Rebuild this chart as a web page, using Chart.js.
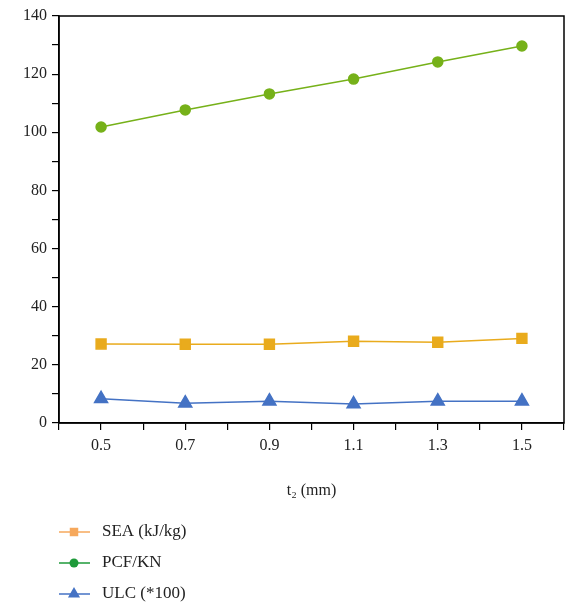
<!DOCTYPE html>
<html>
<head>
<meta charset="utf-8">
<script src="https://cdn.jsdelivr.net/npm/chart.js@4"></script>
<style>
  html, body { margin: 0; padding: 0; background: #fff; }
  #wrap { width: 567px; height: 603px; }
</style>
</head>
<body>
<div id="wrap"><canvas id="myChart" width="567" height="603"></canvas></div>
<script>
'use strict';

let thickness = [0.5, 0.7, 0.9, 1.1, 1.3, 1.5];
let seaValues = [27.2, 27.1, 27.1, 28.1, 27.8, 29.1];
let pcfValues = [101.8, 107.7, 113.2, 118.3, 124.2, 129.7];
let ulcValues = [8.3, 6.8, 7.5, 6.5, 7.5, 7.5];
let seriesNames = ['SEA (kJ/kg)', 'PCF/KN', 'ULC (*100)'];
let xTitle = 't\u2082 (mm)';

let fontFamily = '"Liberation Serif", "Times New Roman", serif';

function toPoints(values) {
    let pts = [];
    for (let i = 0; i < thickness.length; i++) {
        pts.push({ x: thickness[i], y: values[i] });
    }
    return pts;
}

// frame around the plot + legend drawn underneath
let extras = {
    id: 'extras',
    afterDraw(chart) {
        let ctx = chart.ctx;
        let a = chart.chartArea;
        ctx.save();
        ctx.strokeStyle = '#000';
        ctx.lineWidth = 1.5;
        ctx.strokeRect(a.left, a.top, a.right - a.left, a.bottom - a.top);

        let rows = [532, 563, 594];
        chart.data.datasets.forEach(function (ds, i) {
            let y = rows[i];
            ctx.strokeStyle = ds.legendColor;
            ctx.lineWidth = 1.5;
            ctx.beginPath();
            ctx.moveTo(59, y);
            ctx.lineTo(90, y);
            ctx.stroke();
            ctx.fillStyle = ds.legendColor;
            Chart.helpers.drawPoint(ctx, {
                pointStyle: ds.pointStyle,
                radius: ds.legendRadius,
                rotation: 0,
                borderWidth: 0
            }, 74, y);
            ctx.fillStyle = '#222';
            ctx.font = '17px ' + fontFamily;
            ctx.textBaseline = 'middle';
            ctx.textAlign = 'left';
            ctx.fillText(ds.label, 102, y);
        });
        ctx.restore();
    }
};

let ctx = document.getElementById('myChart').getContext('2d');
let myChart = new Chart(ctx, {
    type: 'line',
    data: {
        datasets: [{
            label: seriesNames[0],
            data: toPoints(seaValues),
            borderColor: '#e9ab1d',
            backgroundColor: '#e9ab1d',
            legendColor: '#f6a85c',
            pointStyle: 'rect',
            pointRadius: 7,
            legendRadius: 6,
            borderWidth: 1.5
        }, {
            label: seriesNames[1],
            data: toPoints(pcfValues),
            borderColor: '#76b119',
            backgroundColor: '#76b119',
            legendColor: '#1e9a3a',
            pointStyle: 'circle',
            pointRadius: 5,
            legendRadius: 4.5,
            borderWidth: 1.5
        }, {
            label: seriesNames[2],
            data: toPoints(ulcValues),
            borderColor: '#4472c4',
            backgroundColor: '#4472c4',
            legendColor: '#4472c4',
            pointStyle: 'triangle',
            pointRadius: 7.5,
            legendRadius: 7,
            borderWidth: 1.5
        }]
    },
    options: {
        responsive: false,
        animation: false,
        layout: { autoPadding: false, padding: { top: 16, right: 3, left: 0, bottom: 95 } },
        plugins: {
            legend: { display: false },
            tooltip: { enabled: false }
        },
        elements: { line: { tension: 0 }, point: { borderWidth: 0 } },
        scales: {
            x: {
                type: 'linear',
                min: 0.4,
                max: 1.6,
                afterFit: function (scale) {
                    scale.height = 85;
                    scale.paddingRight = 0;
                    scale.paddingLeft = 0;
                },
                ticks: {
                    stepSize: 0.1,
                    color: '#222',
                    padding: 6,
                    maxRotation: 0,
                    autoSkip: false,
                    font: { family: fontFamily, size: 16 },
                    callback: function (v) {
                        let n = Math.round(v * 10);
                        return (n % 2 === 1) ? (n / 10).toFixed(1) : '';
                    }
                },
                grid: { drawOnChartArea: false, color: '#000', tickLength: 7, lineWidth: 1.2 },
                border: { color: '#000', width: 1.5 },
                title: {
                    display: true,
                    text: xTitle,
                    color: '#222',
                    font: { family: fontFamily, size: 16 },
                    padding: { top: 0, bottom: 8 }
                }
            },
            y: {
                min: 0,
                max: 140,
                afterFit: function (scale) {
                    scale.width = 59;
                    scale.paddingTop = 0;
                    scale.paddingBottom = 0;
                },
                ticks: {
                    stepSize: 10,
                    color: '#222',
                    padding: 5,
                    font: { family: fontFamily, size: 16 },
                    callback: function (v) {
                        return (v % 20 === 0) ? v : '';
                    }
                },
                grid: { drawOnChartArea: false, color: '#000', tickLength: 7, lineWidth: 1.2 },
                border: { color: '#000', width: 1.5 }
            }
        }
    },
    plugins: [extras]
});
</script>
</body>
</html>
